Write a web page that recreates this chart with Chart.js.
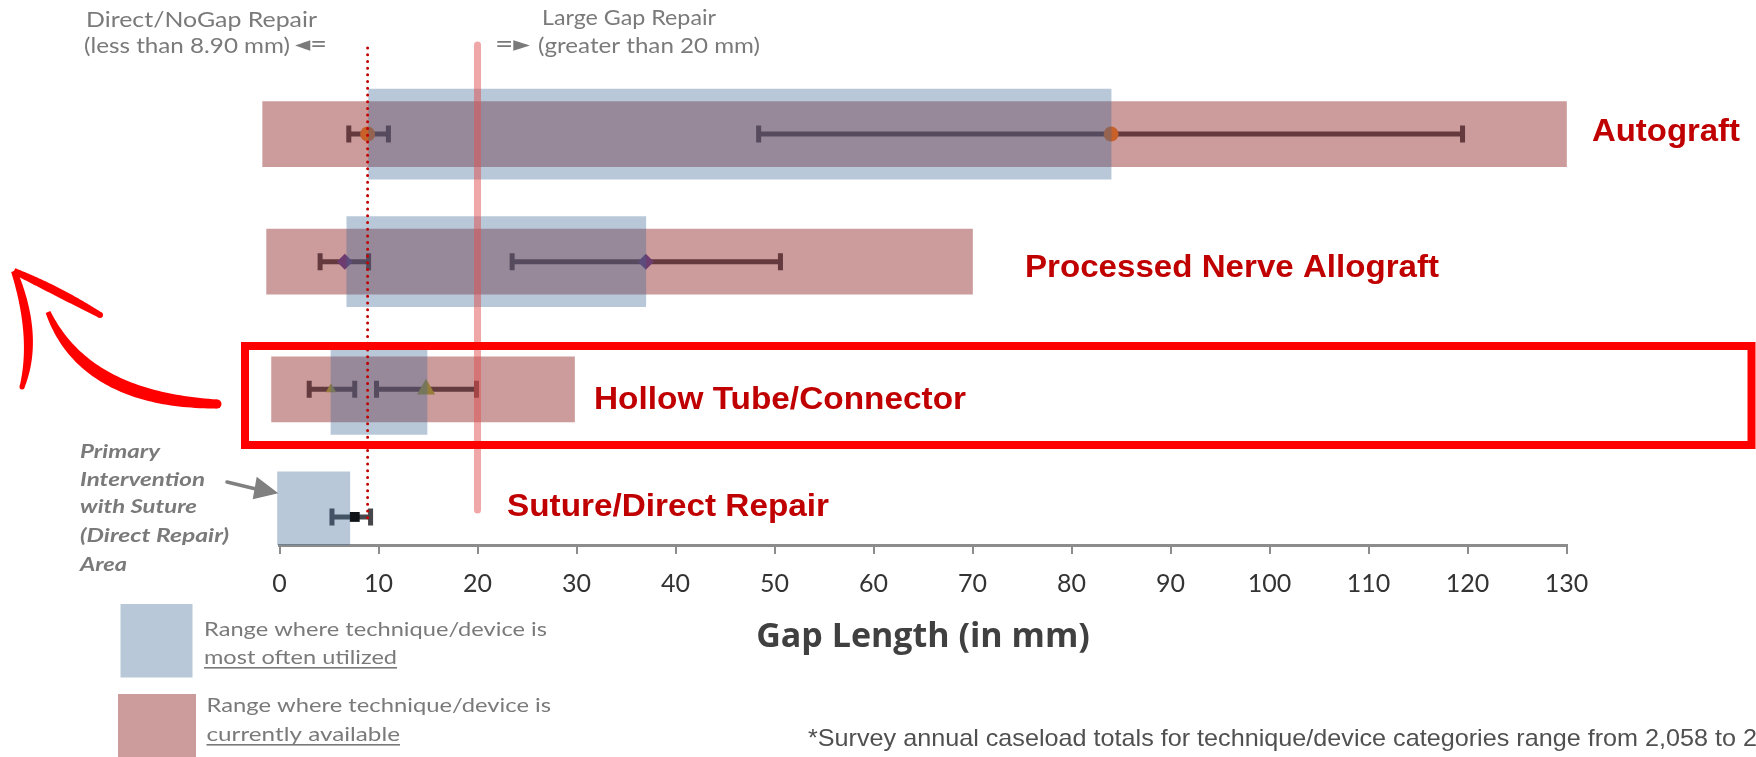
<!DOCTYPE html>
<html><head><meta charset="utf-8">
<script src="https://cdn.jsdelivr.net/npm/chart.js@4.4.1/dist/chart.umd.min.js"></script>
<style>html,body{margin:0;padding:0;background:#fff;overflow:hidden}canvas{display:block}</style>
</head><body>
<canvas id="c" width="1756" height="757"></canvas>
<script>
// ---------- data ----------
const categories = ['Autograft', 'Processed Nerve Allograft', 'Hollow Tube/Connector', 'Suture/Direct Repair'];
const availableMin = [-1.7, -1.3, -0.8, null];
const availableMax = [130, 70, 29.8, null];
const utilizedMin = [9.0, 6.8, 5.2, -0.2];
const utilizedMax = [84.0, 37.0, 14.9, 7.1];
const lowErrMin = [7.0, 4.1, 3.0, 5.3];
const lowMid = [8.9, 6.6, 5.2, 7.6];
const lowErrMax = [11.0, 9.0, 7.6, 9.2];
const highErrMin = [48.4, 23.5, 9.8, null];
const highMid = [84.0, 37.0, 14.8, null];
const highErrMax = [119.5, 50.6, 19.9, null];
const directRepairLimit = 8.9;
const largeGapLimit = 20;
const xTicks = [0, 10, 20, 30, 40, 50, 60, 70, 80, 90, 100, 110, 120, 130];
const legendLabels = [['Range where technique/device is', 'most often utilized'], ['Range where technique/device is', 'currently available']];
const footnote = '*Survey annual caseload totals for technique/device categories range from 2,058 to 2,';

// ---------- styles ----------
const COL_AVAIL = 'rgba(153,58,58,0.5)';
const COL_UTIL = 'rgba(63,106,149,0.37)';
const markerStyle = ['circle', 'rectRot', 'triangle', 'rect'];
const markerColor = ['#c8602a', '#6e3c6e', '#967d3c', '#101418'];
const lowRadius = [7.5, 8, 6, 7];
const highRadius = [7.5, 8, 10.5, 0];
const errColor = ['#643a3e', '#643a3e', '#643a3e', '#47474b'];

const availData = [], utilData = [], markData = [], mStyle = [], mColor = [], mRad = [];
categories.forEach((c, i) => {
  if (availableMin[i] !== null) availData.push({y: i, x: [availableMin[i], availableMax[i]]});
  utilData.push({y: i, x: [utilizedMin[i], utilizedMax[i]]});
  markData.push({x: lowMid[i], y: i}); mStyle.push(markerStyle[i]); mColor.push(markerColor[i]); mRad.push(lowRadius[i]);
  if (highMid[i] !== null) { markData.push({x: highMid[i], y: i}); mStyle.push(markerStyle[i]); mColor.push(markerColor[i]); mRad.push(highRadius[i]); }
});

function fitText(ctx, text, x, y, w, font, color) {
  ctx.save();
  ctx.font = font; ctx.fillStyle = color; ctx.textBaseline = 'middle'; ctx.textAlign = 'left';
  const m = ctx.measureText(text).width;
  ctx.translate(x, y); ctx.scale(w / m, 1); ctx.fillText(text, 0, 0);
  ctx.restore();
}
function taper(ctx, p0, c, p1, w0, w1, w2) {
  const N = 60, L = [], R = [];
  for (let i = 0; i <= N; i++) {
    const t = i / N, mt = 1 - t;
    const px = mt*mt*p0[0] + 2*mt*t*c[0] + t*t*p1[0];
    const py = mt*mt*p0[1] + 2*mt*t*c[1] + t*t*p1[1];
    const dx = 2*mt*(c[0]-p0[0]) + 2*t*(p1[0]-c[0]);
    const dy = 2*mt*(c[1]-p0[1]) + 2*t*(p1[1]-c[1]);
    const len = Math.hypot(dx, dy) || 1, nx = -dy/len, ny = dx/len;
    const w = (mt*mt*w0 + 2*mt*t*w1 + t*t*w2) / 2;
    L.push([px + nx*w, py + ny*w]); R.push([px - nx*w, py - ny*w]);
  }
  ctx.beginPath(); ctx.moveTo(L[0][0], L[0][1]);
  L.forEach(p => ctx.lineTo(p[0], p[1]));
  R.reverse().forEach(p => ctx.lineTo(p[0], p[1]));
  ctx.closePath(); ctx.fill();
  ctx.beginPath(); ctx.arc(p1[0], p1[1], w2/2, 0, Math.PI*2); ctx.fill();
}

const overlay = {
  id: 'overlay',
  afterDatasetDraw(chart, args) {
    if (args.index !== 0) return;
    const {ctx, scales: {x, y}} = chart;
    ctx.save();
    const bar = (a, b, py, col) => {
      const xa = x.getPixelForValue(a), xb = x.getPixelForValue(b);
      ctx.strokeStyle = col; ctx.lineWidth = 5; ctx.lineCap = 'butt';
      ctx.beginPath(); ctx.moveTo(xa, py); ctx.lineTo(xb, py); ctx.stroke();
      ctx.beginPath(); ctx.moveTo(xa, py - 8.5); ctx.lineTo(xa, py + 8.5);
      ctx.moveTo(xb, py - 8.5); ctx.lineTo(xb, py + 8.5); ctx.stroke();
    };
    categories.forEach((c, i) => {
      const py = y.getPixelForValue(i);
      bar(lowErrMin[i], lowErrMax[i], py, errColor[i]);
      if (highErrMin[i] !== null) bar(highErrMin[i], highErrMax[i], py, errColor[i]);
    });
    ctx.restore();
  },
  afterDatasetsDraw(chart) {
    const {ctx, scales: {x}} = chart;
    ctx.save();
    const gx = x.getPixelForValue(largeGapLimit);
    ctx.strokeStyle = 'rgba(225,80,80,0.5)'; ctx.lineWidth = 7; ctx.lineCap = 'round';
    ctx.beginPath(); ctx.moveTo(gx, 45); ctx.lineTo(gx, 510); ctx.stroke();
    const dx = x.getPixelForValue(directRepairLimit);
    ctx.strokeStyle = '#c00000'; ctx.lineWidth = 3; ctx.lineCap = 'round';
    ctx.setLineDash([0.01, 6.7]);
    ctx.beginPath(); ctx.moveTo(dx, 48); ctx.lineTo(dx, 520); ctx.stroke();
    ctx.restore();
  },
  afterDraw(chart) {
    const ctx = chart.ctx;
    ctx.save();
    const gray = '#7a7a7a';
    const tf = '21px Lato';
    fitText(ctx, 'Direct/NoGap Repair', 86, 20.5, 231, tf, gray);
    fitText(ctx, '(less than 8.90 mm)', 84, 46, 206, tf, gray);
    fitText(ctx, '\u25C4=', 295, 46, 32, '21px "DejaVu Sans"', gray);
    fitText(ctx, 'Large Gap Repair', 542, 18, 174, tf, gray);
    fitText(ctx, '=\u25BA', 495, 46, 35, '21px "DejaVu Sans"', gray);
    fitText(ctx, '(greater than 20 mm)', 538, 46, 222, tf, gray);
    const red = '#c00000', lf = 'bold 32px "Liberation Sans"';
    fitText(ctx, categories[0], 1592, 132, 148, lf, red);
    fitText(ctx, categories[1], 1025, 268, 414, lf, red);
    fitText(ctx, categories[2], 594, 400, 372, lf, red);
    fitText(ctx, categories[3], 507, 507, 322, lf, red);
    ctx.strokeStyle = '#ff0000'; ctx.lineWidth = 8;
    ctx.strokeRect(245, 346, 1506.5, 99);
    ctx.fillStyle = '#ff0000';
    taper(ctx, [48, 312], [85, 400], [217, 404], 5, 18, 9);
    taper(ctx, [14, 271], [38, 337], [22, 387], 6, 13, 5);
    taper(ctx, [14, 271], [56, 290], [100, 315], 6, 11, 6);
    const pf = 'italic bold 18px Lato';
    const lines = ['Primary', 'Intervention', 'with Suture', '(Direct Repair)', 'Area'];
    const lw = [80, 125, 117, 149, 47], ly = [452, 480, 507, 536, 565];
    lines.forEach((t, i) => fitText(ctx, t, 80, ly[i], lw[i], pf, gray));
    ctx.strokeStyle = '#808080'; ctx.fillStyle = '#808080'; ctx.lineWidth = 3.5; ctx.lineCap = 'round';
    ctx.beginPath(); ctx.moveTo(227, 482); ctx.lineTo(258, 489.5); ctx.stroke();
    ctx.beginPath(); ctx.moveTo(256.7, 476.7); ctx.lineTo(278.3, 493.3); ctx.lineTo(252.7, 499.3); ctx.closePath(); ctx.fill();
    ctx.fillStyle = COL_UTIL; ctx.fillRect(120.5, 604, 72, 73.5);
    ctx.fillStyle = COL_AVAIL; ctx.fillRect(118, 694, 78, 63);
    const gf = '19px Lato';
    fitText(ctx, legendLabels[0][0], 204, 630, 343, gf, gray);
    fitText(ctx, legendLabels[0][1], 204, 658, 193, gf, gray);
    fitText(ctx, legendLabels[1][0], 206.5, 706, 344.5, gf, gray);
    fitText(ctx, legendLabels[1][1], 206.5, 735, 193.5, gf, gray);
    ctx.fillStyle = gray;
    ctx.fillRect(204, 667, 193, 1.6);
    ctx.fillRect(206.5, 744, 193.5, 1.6);
    fitText(ctx, footnote, 808, 739, 956, '24px "Liberation Sans Narrow", "Liberation Sans"', '#505050');
    ctx.restore();
  }
};

new Chart(document.getElementById('c'), {
  type: 'bar',
  data: {
    datasets: [
      {label: legendLabels[1].join(' '), data: availData, backgroundColor: COL_AVAIL, borderWidth: 0, barThickness: 65, grouped: false, order: 3, clip: false},
      {type: 'scatter', label: 'means', data: markData, pointStyle: mStyle, backgroundColor: mColor, borderWidth: 0, pointRadius: mRad, order: 2, clip: false},
      {label: legendLabels[0].join(' '), data: utilData, backgroundColor: COL_UTIL, borderWidth: 0, barThickness: 90, grouped: false, order: 1,
        clip: {left: false, right: false, top: false, bottom: 0}}
    ]
  },
  options: {
    indexAxis: 'y',
    responsive: false,
    animation: false,
    devicePixelRatio: 1,
    events: [],
    layout: {padding: {left: 279.5, right: 189.5, top: 70.25, bottom: 0}},
    plugins: {legend: {display: false}, tooltip: {enabled: false}},
    scales: {
      y: {type: 'linear', reverse: true, min: -0.5, max: 3.22, offset: false, grid: {offset: false}, display: false},
      x: {
        type: 'linear', min: 0, max: 130, position: 'bottom', offset: false,
        afterBuildTicks: s => { s.ticks = xTicks.map(v => ({value: v})); },
        afterFit: s => { s.height = 212; },
        ticks: {color: '#333333', font: {family: 'Lato', size: 25}, padding: 15, maxRotation: 0, autoSkip: false},
        grid: {drawOnChartArea: false, drawTicks: true, tickLength: 9, color: '#8c8c8c', lineWidth: 2},
        border: {display: true, color: '#8c8c8c', width: 3},
        title: {display: true, text: 'Gap Length (in mm)', color: '#404040', font: {family: 'Open Sans', size: 34, weight: 'bold'}, padding: {top: 0, bottom: 99}}
      }
    }
  },
  plugins: [overlay]
});
</script>
</body></html>
